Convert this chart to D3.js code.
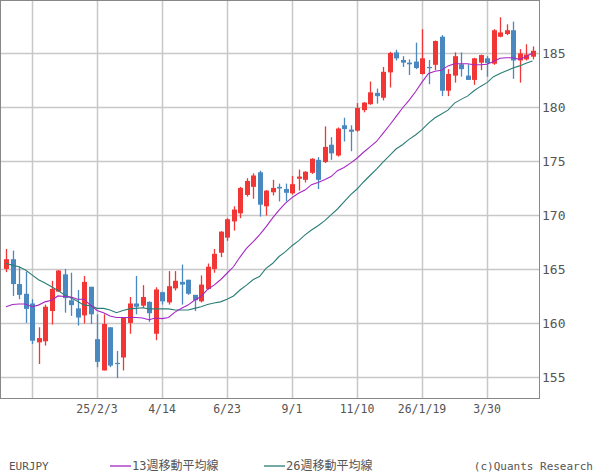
<!DOCTYPE html>
<html><head><meta charset="utf-8">
<script src="https://cdn.jsdelivr.net/npm/d3@7"></script>
<style>body{margin:0;background:#fff}svg{display:block}</style>
</head><body><svg id="c" width="600" height="475"></svg>
<script>
const opens=[165.0,165.9,163.6,162.7,161.8,158.2,158.3,161.1,162.9,164.5,162.1,161.35,160.7,163.35,158.5,155.6,159.6,156.3,156.8,160.0,161.8,161.6,161.95,159.0,162.85,161.9,163.2,163.8,164.0,162.6,162.0,163.15,165.0,166.5,167.9,169.4,170.15,171.85,172.6,173.95,170.8,172.1,172.6,172.4,172.0,173.35,173.25,173.9,175.1,174.9,176.5,175.5,178.3,177.9,177.8,179.7,180.25,181.3,180.85,183.2,185.05,184.35,184.1,184.2,183.05,183.7,183.9,186.5,181.5,182.9,183.95,182.9,182.5,184.1,184.5,184.0,186.5,186.75,187.1,184.3,184.4,184.65];
const highs=[166.85,166.7,165.2,164.75,162.2,159.6,161.7,163.9,164.9,165.0,164.65,163.05,164.35,163.35,160.8,160.8,159.6,157.4,160.5,162.4,164.35,163.5,162.0,163.3,162.9,164.8,164.8,165.4,164.0,162.6,164.4,165.5,166.85,168.5,169.7,170.8,172.6,173.4,173.85,174.1,172.3,173.25,172.9,172.9,173.6,174.2,174.05,175.25,175.35,178.2,177.2,178.1,179.0,178.3,180.35,180.45,182.35,181.7,183.7,185.1,185.3,184.7,184.4,185.95,187.2,184.35,186.15,186.65,183.5,185.05,185.05,183.95,184.55,184.85,184.7,187.2,188.3,187.65,187.9,185.35,185.8,185.6];
const lows=[164.7,162.5,162.2,160.0,158.05,156.2,157.9,159.85,162.9,160.95,160.65,159.75,159.95,159.9,155.9,155.6,155.9,154.9,155.6,159.0,160.8,161.4,160.1,158.4,161.7,161.7,163.0,161.7,162.6,161.1,161.9,163.1,164.65,166.1,167.6,168.55,169.7,171.7,171.5,169.85,169.95,171.8,171.25,171.25,171.9,172.25,173.0,173.8,172.4,174.8,175.1,175.4,176.8,175.9,177.7,179.5,180.2,180.3,180.6,181.8,184.3,183.7,182.95,183.5,183.0,182.1,183.4,181.0,181.0,182.25,182.8,182.5,182.05,183.4,182.8,183.9,186.45,186.65,182.6,182.25,184.3,184.4];
const closes=[165.9,163.6,162.6,161.3,158.35,158.6,161.5,163.15,164.85,162.3,161.65,160.5,163.8,160.8,156.4,159.9,156.05,156.25,160.5,161.8,161.5,162.4,160.9,163.1,162.0,163.4,163.9,163.55,162.7,162.1,163.55,165.2,166.4,168.45,169.6,170.5,172.5,173.15,173.65,170.95,172.25,172.5,172.45,172.05,172.85,173.55,174.0,175.2,173.25,176.3,175.7,178.0,177.95,177.7,179.9,180.4,181.35,181.0,183.25,185.0,184.5,184.1,183.95,183.6,184.5,183.65,186.1,181.5,183.05,184.7,183.5,182.5,184.5,184.8,184.05,187.1,186.9,187.1,184.3,184.95,184.85,185.2];
const ma13=[161.5,161.7,161.75,161.75,161.5,161.65,161.95,162.1,162.5,162.45,162.4,162.2,162.2,161.65,161.15,160.95,160.65,160.5,160.5,160.5,160.5,160.45,160.3,160.45,160.4,160.5,161.0,161.35,161.65,162.1,162.45,163.1,163.5,164.0,164.6,165.2,166.1,166.9,167.5,168.15,168.9,169.7,170.45,171.1,171.6,172.0,172.3,172.8,173.0,173.25,173.55,174.1,174.4,174.8,175.25,175.8,176.3,176.8,177.55,178.3,179.1,179.9,180.6,181.4,182.3,183.1,183.3,183.4,183.8,184.0,184.0,184.0,183.9,183.9,183.95,184.2,184.5,184.55,184.55,184.4,184.65,185.0];
const ma26=[165.5,165.35,165.2,164.9,164.45,164.0,163.7,163.35,163.0,162.6,162.3,162.0,161.65,161.6,161.35,161.35,161.2,160.95,161.15,161.3,161.35,161.4,161.3,161.3,161.3,161.3,161.2,161.2,161.2,161.35,161.5,161.7,161.85,161.95,162.2,162.5,163.05,163.5,164.0,164.3,165.05,165.5,166.15,166.6,167.15,167.6,168.15,168.6,169.0,169.45,170.0,170.55,171.2,171.85,172.4,173.05,173.65,174.25,174.9,175.5,176.1,176.5,177.0,177.4,177.9,178.5,179.0,179.35,179.7,180.35,180.7,181.0,181.5,181.9,182.25,182.8,183.1,183.35,183.6,183.8,184.05,184.25];
const gridWeeks=[4,14,24,34,44,54,64,74];
const tickLabels=["","25/2/3","4/14","6/23","9/1","11/10","26/1/19","3/30"];
const yTicks=[155,160,165,170,175,180,185];

const svg=d3.select("#c");
const W=539,H=398;
const x=d3.scaleLinear().domain([0,1]).range([6,12.5]);
const y=d3.scaleLinear().domain([153.05,189.9]).range([H,0]);
const font="'DejaVu Sans Mono', monospace";
const g=svg.append("g");
g.selectAll("line.v").data(gridWeeks).join("line").attr("x1",d=>Math.round(x(d))+0.5).attr("x2",d=>Math.round(x(d))+0.5).attr("y1",0).attr("y2",H).attr("stroke","#c8c8c8").attr("stroke-width",1.5);
g.selectAll("line.h").data(yTicks).join("line").attr("y1",d=>Math.round(y(d))+0.5).attr("y2",d=>Math.round(y(d))+0.5).attr("x1",0).attr("x2",W).attr("stroke","#c8c8c8").attr("stroke-width",1.5);
g.append("rect").attr("x",0.5).attr("y",0.5).attr("width",W).attr("height",H).attr("fill","none").attr("stroke","#888");
const idx=d3.range(opens.length);
const col=i=>closes[i]>=opens[i]?"#f23636":"#4a89c0";
g.selectAll("line.w").data(idx).join("line").attr("x1",i=>Math.round(x(i))+0.5).attr("x2",i=>Math.round(x(i))+0.5).attr("y1",i=>y(highs[i])).attr("y2",i=>y(lows[i])).attr("stroke",col).attr("stroke-width",1.3);
g.selectAll("rect.b").data(idx).join("rect").attr("x",i=>Math.round(x(i))-2).attr("width",5).attr("y",i=>y(Math.max(opens[i],closes[i]))).attr("height",i=>Math.max(1.2,Math.abs(y(opens[i])-y(closes[i])))).attr("fill",col);
const line=arr=>d3.line().x((d,i)=>x(i)).y(d=>y(d))(arr);
g.append("path").attr("d",line(ma26)).attr("fill","none").attr("stroke","#2a7d78").attr("stroke-width",1.1);
g.append("path").attr("d",line(ma13)).attr("fill","none").attr("stroke","#a526c4").attr("stroke-width",1.1);
svg.selectAll("text.y").data(yTicks).join("text").attr("x",542).attr("y",d=>y(d)+5).text(d=>d).attr("font-family",font).attr("font-size",13).attr("fill","#555");
svg.selectAll("text.x").data(gridWeeks).join("text").attr("x",d=>x(d)).attr("y",413).attr("text-anchor","middle").text((d,i)=>tickLabels[i]).attr("font-family",font).attr("font-size",11.5).attr("fill","#555");
const lf="'DejaVu Sans Mono','Noto Sans CJK JP',monospace";
svg.append("text").attr("x",9).attr("y",470).text("EURJPY").attr("font-family",font).attr("font-size",11).attr("fill","#555");
svg.append("line").attr("x1",110).attr("x2",131).attr("y1",466).attr("y2",466).attr("stroke","#a526c4").attr("stroke-width",1.3);
svg.append("text").attr("x",132).attr("y",470).text("13週移動平均線").attr("font-family",lf).attr("font-size",12).attr("fill","#555");
svg.append("line").attr("x1",264).attr("x2",285).attr("y1",466).attr("y2",466).attr("stroke","#2a7d78").attr("stroke-width",1.3);
svg.append("text").attr("x",286).attr("y",470).text("26週移動平均線").attr("font-family",lf).attr("font-size",12).attr("fill","#555");
svg.append("text").attr("x",593).attr("y",470).attr("text-anchor","end").text("(c)Quants Research").attr("font-family",font).attr("font-size",11).attr("fill","#555");
</script></body></html>
